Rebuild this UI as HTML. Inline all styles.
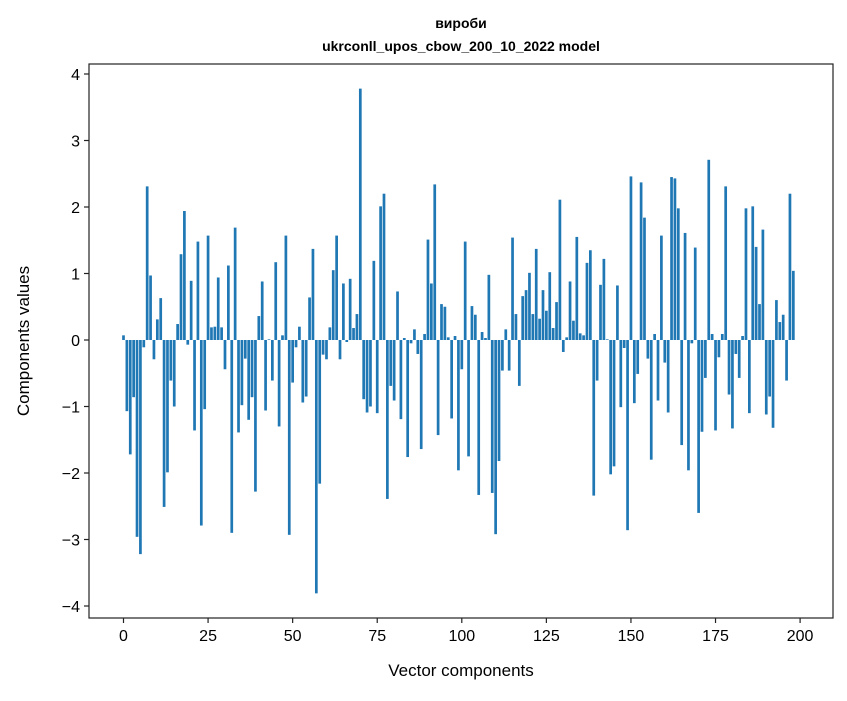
<!DOCTYPE html>
<html><head><meta charset="utf-8"><style>
body{margin:0;background:#fff;}
svg text{font-family:"Liberation Sans","DejaVu Sans",sans-serif;fill:#000;}
</style></head><body>
<svg id="chart" width="847" height="696" xmlns="http://www.w3.org/2000/svg">
<rect width="847" height="696" fill="#fff"/>
<text x="461" y="28" text-anchor="middle" font-size="14" font-weight="bold">вироби</text>
<text x="461" y="51" text-anchor="middle" font-size="14" font-weight="bold">ukrconll_upos_cbow_200_10_2022 model</text>
<g id="bars"></g>
<g id="axes"></g>
<text x="461" y="676" text-anchor="middle" font-size="17">Vector components</text>
<text transform="translate(29,341) rotate(-90)" text-anchor="middle" font-size="17">Components values</text>
</svg>
<script>
const values = [0.07,-1.07,-1.72,-0.86,-2.96,-3.22,-0.11,2.31,0.97,-0.29,0.31,0.63,-2.51,-1.99,-0.61,-1.0,0.24,1.29,1.94,-0.07,0.89,-1.36,1.48,-2.79,-1.04,
1.57,0.19,0.2,0.94,0.19,-0.44,1.12,-2.9,1.69,-1.39,-0.98,-0.28,-1.2,-0.86,-2.28,0.36,0.88,-1.06,0.01,-0.61,1.17,-1.3,0.07,1.57,-2.93,
-0.64,-0.11,0.2,-0.94,-0.85,0.64,1.37,-3.81,-2.16,-0.22,-0.29,0.19,1.05,1.57,-0.29,0.85,-0.03,0.92,0.18,0.39,3.78,-0.89,-1.09,-1.0,1.19,
-1.1,2.01,2.2,-2.39,-0.69,-0.91,0.73,-1.19,0.03,-1.76,-0.05,0.16,-0.21,-1.64,0.09,1.51,0.85,2.34,-1.43,0.54,0.5,0.04,-1.18,0.06,-1.96,
-0.44,1.48,-1.75,0.51,0.38,-2.33,0.12,0.03,0.98,-2.3,-2.92,-1.82,-0.46,0.16,-0.46,1.54,0.39,-0.69,0.66,0.75,1.01,0.39,1.37,0.32,0.75,
0.44,1.02,0.18,0.57,2.11,-0.18,0.04,0.88,0.29,1.55,0.1,0.07,1.16,1.35,-2.34,-0.61,0.83,1.22,0.01,-2.02,-1.9,0.82,-1.01,-0.12,-2.86,
2.46,-0.95,-0.51,2.37,1.84,-0.28,-1.8,0.09,-0.91,1.57,-0.34,-1.09,2.45,2.43,1.98,-1.58,1.61,-1.96,-0.05,1.39,-2.6,-1.38,-0.57,2.71,0.09,
-1.36,-0.26,0.09,2.31,-0.82,-1.33,-0.21,-0.57,0.06,1.98,-1.1,2.01,1.4,0.54,1.66,-1.12,-0.85,-1.32,0.6,0.27,0.38,-0.61,2.2,1.04];
const xTicks = [0,25,50,75,100,125,150,175,200];
const yTicks = [-4,-3,-2,-1,0,1,2,3,4];
const yTickLabels = ["\u22124","\u22123","\u22122","\u22121","0","1","2","3","4"];

const NS="http://www.w3.org/2000/svg";
const X0=123.5, XS=3.383, Y0=340, YS=66.5;
const L=89, R=833, T=64, B=618;
function xs(v){return X0+v*XS;}
function ys(v){return Y0-v*YS;}
const bars=document.getElementById('bars');
values.forEach((v,i)=>{
  const r=document.createElementNS(NS,'rect');
  const w=0.8*XS;
  r.setAttribute('x',xs(i)-w/2);
  r.setAttribute('width',w);
  r.setAttribute('y',Math.min(ys(v),ys(0)));
  r.setAttribute('height',Math.abs(ys(v)-ys(0)));
  r.setAttribute('fill','#1f77b4');
  
  
  bars.appendChild(r);
});
const axes=document.getElementById('axes');
function line(x1,y1,x2,y2,name){
  const l=document.createElementNS(NS,'line');
  l.setAttribute('x1',x1);l.setAttribute('y1',y1);l.setAttribute('x2',x2);l.setAttribute('y2',y2);
  l.setAttribute('stroke','#222');l.setAttribute('stroke-width','1.2');
  
  
  axes.appendChild(l);
}
function text(x,y,s,anchor,name){
  const t=document.createElementNS(NS,'text');
  t.setAttribute('x',x);t.setAttribute('y',y);t.setAttribute('text-anchor',anchor);t.setAttribute('font-size','16');
  t.textContent=s;
  
  
  axes.appendChild(t);
}
const frame=document.createElementNS(NS,'rect');
frame.setAttribute('x',L);frame.setAttribute('y',T);frame.setAttribute('width',R-L);frame.setAttribute('height',B-T);
frame.setAttribute('fill','none');frame.setAttribute('stroke','#222');frame.setAttribute('stroke-width','1.2');


axes.appendChild(frame);
xTicks.forEach(v=>{line(xs(v),B,xs(v),B+5,'x-tick');text(xs(v),B+23,String(v),'middle','x-tick-label');});
yTicks.forEach((v,i)=>{line(L-5,ys(v),L,ys(v),'y-tick');text(L-9,ys(v)+6,yTickLabels[i],'end','y-tick-label');});
</script>
</body></html>
